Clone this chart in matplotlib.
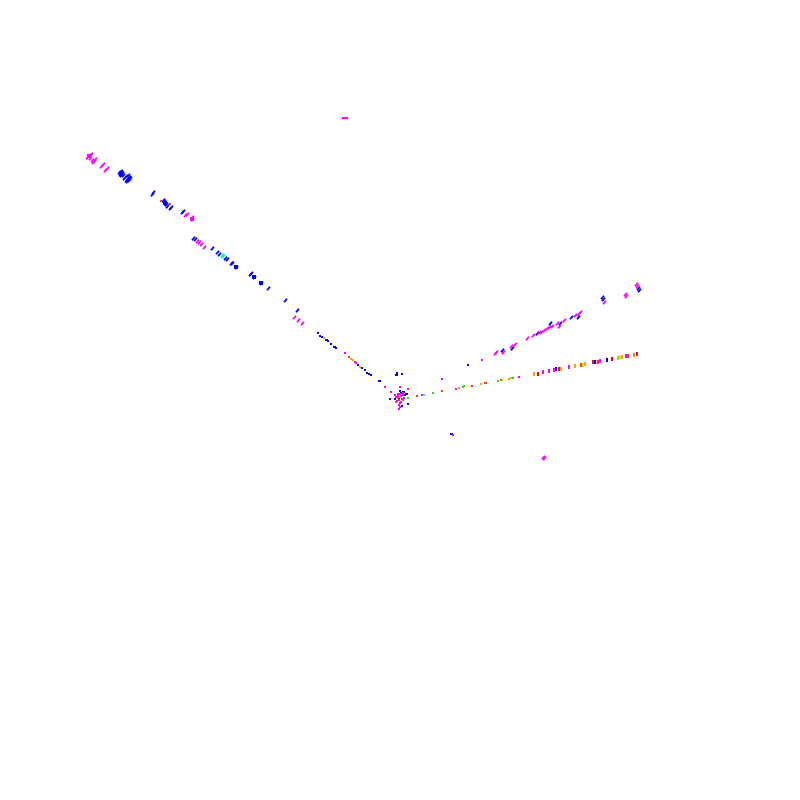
import matplotlib
matplotlib.use('Agg')
import matplotlib.pyplot as plt
from matplotlib.markers import MarkerStyle
from matplotlib.transforms import Affine2D

# values, one group per colour
blue_x = [119, 121, 122, 120, 123, 121, 124, 126, 128, 126, 128, 129, 127, 129, 130, 153, 152, 163, 165, 164, 166, 167, 171, 170, 183, 182,
          193, 195, 212, 217, 219, 225, 227, 232, 231, 236, 250, 251, 254, 261, 268, 285, 297, 502, 512, 537, 550, 560, 571, 578, 602, 603, 638, 639]
blue_y = [172, 171, 173, 174, 175, 175, 178, 176, 175, 180, 178, 177, 181, 180, 178, 192, 194, 200, 203, 201, 204, 206, 207, 208, 211, 212,
          238, 239, 248, 252, 254, 258, 259, 263, 263, 267, 274, 273, 277, 283, 288, 300, 310, 350, 348, 333, 323, 323, 317, 317, 297, 299, 288, 290]
blue_fine_x = [318, 320, 322, 326, 327, 328, 331, 334, 335, 336, 358, 362, 365, 367, 369, 371, 379, 380, 397, 396, 402, 397, 401, 400, 406, 390, 395, 408, 402, 399, 405, 468, 451, 452,
               403, 407, 404]
blue_fine_y = [333, 336, 337, 340, 340, 341, 344, 347, 347, 348, 365, 368, 370, 373, 374, 375, 381, 381, 373, 375, 374, 375, 393, 391, 394, 399, 399, 404, 406, 398, 395, 365, 434, 434,
               392, 394, 392]
blue_blob_x = [121, 165, 236, 254, 261]
blue_blob_y = [173, 203, 267, 277, 283]

magenta_x = [87, 89, 91, 90, 92, 94, 93, 95, 101, 103, 105, 107, 185, 187, 192, 192, 197, 199, 201, 204, 294, 298, 302, 495, 496, 503, 511, 515, 527, 533,
             539, 541, 544, 547, 549, 552, 557, 559, 564, 575, 578, 580, 604, 625, 626, 636, 637, 543, 544]
magenta_y = [157, 155, 154, 158, 160, 161, 162, 159, 166, 164, 170, 168, 215, 214, 217, 219, 241, 242, 244, 247, 317, 320, 323, 353, 352, 352, 346, 344, 338, 335,
             332, 332, 330, 328, 327, 326, 323, 326, 320, 315, 314, 312, 302, 294, 296, 284, 286, 457, 458]
magenta_fine_x = [345, 355, 356, 385, 391, 400, 408, 395, 398, 399, 403, 404, 401, 399, 400, 397, 402, 400, 422, 442, 456, 472, 482, 453, 519, 396, 398, 401, 403, 400, 399,
                  343, 344, 345, 346, 347]
magenta_fine_y = [353, 362, 363, 387, 392, 387, 389, 395, 396, 400, 395, 398, 402, 405, 407, 401, 399, 394, 395, 379, 389, 386, 360, 435, 377, 397, 394, 396, 393, 403, 409,
                  118, 118, 118, 118, 118]
magenta_blob_x = [89, 192]
magenta_blob_y = [156, 219]

red_x = [161, 170, 349, 417, 442, 485, 486, 501, 398, 403, 396]
red_y = [201, 204, 357, 396, 391, 383, 383, 380, 398, 400, 402]
orange_x = [351, 353, 360, 459, 481, 509, 511, 324, 400]
orange_y = [359, 360, 367, 388, 384, 379, 378, 338, 397]
yellow_x = [468, 503]
yellow_y = [386, 380]
green_x = [408, 433, 463, 464, 498, 513]
green_y = [398, 393, 387, 386, 381, 378]
teal_x = [223, 222]
teal_y = [256, 255]
cyan_x = [424]
cyan_y = [395]

# the short upright marks along the lower right streak
tick_x = [534, 538, 543, 549, 554, 556, 559, 561, 569, 575, 581, 583, 585, 593, 595, 597, 598, 600, 607, 612, 618, 620, 622, 626, 628, 634, 637]
tick_y = [374, 374, 372, 371, 370, 369, 369, 369, 367, 366, 365, 365, 364, 362, 362, 362, 362, 361, 360, 359, 358, 357, 357, 356, 356, 355, 354]
tick_colors = ['orange', 'red', 'magenta', 'magenta', 'magenta', 'blue', 'red', 'orange', 'magenta', 'orange', 'orangered', 'gold', 'orange',
               'crimson', 'blue', 'gold', 'magenta', 'magenta', 'blue', 'red', 'yellowgreen', 'gold', 'orange', 'magenta', 'orangered', 'darkorange', 'crimson']

fig = plt.figure(figsize=(8, 8), dpi=100)
ax = fig.add_axes([0, 0, 1, 1])
ax.set_xlim(0, 800)
ax.set_ylim(800, 0)
ax.axis('off')

# slanted stroke for the marks on the long streaks
slant = MarkerStyle('|', transform=Affine2D().rotate_deg(-40))

blob = 11
fine = 1.2
for x, y, c in [(blue_x, blue_y, 'blue'), (magenta_x, magenta_y, 'magenta'), (teal_x, teal_y, 'mediumspringgreen')]:
    pts = ax.scatter(x, y, s=11, c=c, marker=slant, linewidths=1.3)
    pts.set_antialiased(False)

groups = [
    (blue_blob_x, blue_blob_y, 'blue', blob),
    (blue_fine_x, blue_fine_y, 'blue', fine),
    (magenta_blob_x, magenta_blob_y, 'magenta', blob),
    (magenta_fine_x, magenta_fine_y, 'magenta', fine),
    (red_x, red_y, 'orangered', fine),
    (orange_x, orange_y, 'orange', fine),
    (yellow_x, yellow_y, 'yellow', fine),
    (green_x, green_y, 'limegreen', fine),
    (cyan_x, cyan_y, 'cyan', fine),
]
for x, y, c, s in groups:
    pts = ax.scatter(x, y, s=s, c=c, marker='s', linewidths=0)
    pts.set_antialiased(False)

ticks = ax.scatter(tick_x, tick_y, s=9, c=tick_colors, marker='|', linewidths=1.44)
ticks.set_antialiased(False)

fig.savefig('out.png', dpi=100, facecolor='white')
